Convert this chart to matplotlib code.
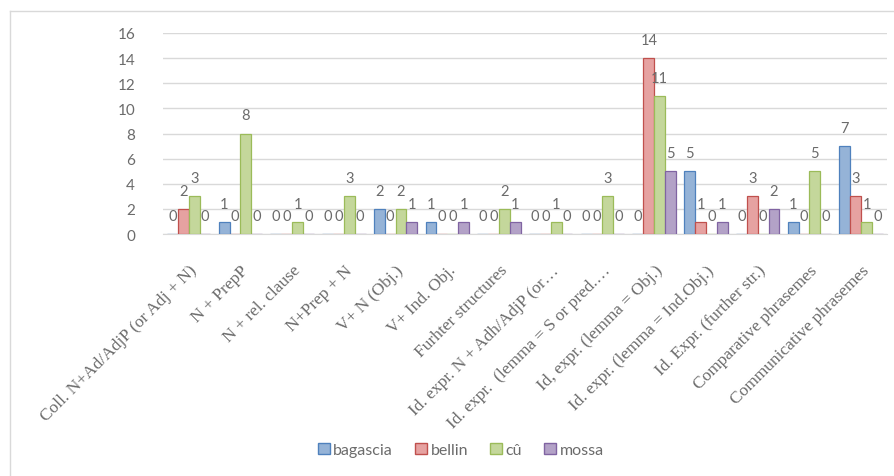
import matplotlib.pyplot as plt
import numpy as np
from matplotlib.patches import Patch
from matplotlib.lines import Line2D

categories = [
    "Coll. N+Ad/AdjP (or Adj + N)",
    "N + PrepP",
    "N + rel. clause",
    "N+Prep + N",
    "V+ N (Obj.)",
    "V+ Ind. Obj.",
    "Furhter structures",
    "Id. expr. N + Adh/AdjP (or…",
    "Id. expr.  (lemma = S or pred.…",
    "Id, expr. (lemma = Obj.)",
    "Id. expr. (lemma = Ind.Obj.)",
    "Id. Expr. (further str.)",
    "Comparative phrasemes",
    "Communicative phrasemes",
]
bagascia = [0, 1, 0, 0, 2, 1, 0, 0, 0, 0, 5, 0, 1, 7]
bellin = [2, 0, 0, 0, 0, 0, 0, 0, 0, 14, 1, 3, 0, 3]
cu = [3, 8, 1, 3, 2, 0, 2, 1, 3, 11, 0, 0, 5, 1]
mossa = [0, 0, 0, 0, 1, 1, 1, 0, 0, 5, 1, 2, 0, 0]

series = [
    ("bagascia", bagascia, "#95B3D7", "#4F81BD"),
    ("bellin", bellin, "#E6A2A1", "#C0504D"),
    ("cû", cu, "#C4D79B", "#9BBB59"),
    ("mossa", mossa, "#B3A2C7", "#8064A2"),
]

TEXT = "#6b6b6b"
fig = plt.figure(figsize=(8.95, 4.77), dpi=100)
ax = fig.add_axes([0.182, 0.507, 0.809, 0.422])

x = np.arange(len(categories))
w = 0.21
for i, (name, vals, face, edge) in enumerate(series):
    pos = x + (i - 1.5) * w
    ax.bar(pos, vals, w, color=face, edgecolor=edge, linewidth=0.9, zorder=3)
    for px, v in zip(pos, vals):
        ax.annotate(str(v), (px, v), xytext=(0, 13), textcoords="offset points",
                    ha="center", va="center", fontsize=10.5, color=TEXT,
                    family="Lato")

ax.set_xlim(-0.5, len(categories) - 0.5)
ax.set_ylim(0, 16)
ax.set_yticks(range(0, 17, 2))
ax.yaxis.grid(True, color="#D9D9D9", linewidth=1, zorder=0)
for s in ["top", "right", "left"]:
    ax.spines[s].set_visible(False)
ax.spines["bottom"].set_color("#D9D9D9")
ax.tick_params(axis="both", length=0, colors=TEXT)
ax.tick_params(axis="y", labelsize=11, pad=20)
ax.tick_params(axis="x", pad=20)
for lab in ax.get_yticklabels():
    lab.set_family("Lato")
ax.set_xticks(x)
ax.set_xticklabels(categories, rotation=45, ha="right", rotation_mode="anchor")
for lab in ax.get_xticklabels():
    lab.set_fontfamily(["Liberation Serif", "DejaVu Serif"])
    lab.set_fontsize(12.5)
    lab.set_color(TEXT)

# chart border (partially visible)
fig.add_artist(Line2D([10 / 895, 10 / 895], [1 - 12 / 477, 0], color="#D9D9D9", lw=1))
fig.add_artist(Line2D([10 / 895, 1], [1 - 12 / 477, 1 - 12 / 477], color="#D9D9D9", lw=1))

handles = [Patch(facecolor=f, edgecolor=e, label=n) for n, _, f, e in series]
leg = fig.legend(handles=handles, loc="center", bbox_to_anchor=(0.515, 1 - 451 / 477),
                 ncol=4, frameon=False, handlelength=0.75,
                 handleheight=0.75, handletextpad=0.2, columnspacing=1.4,
                 prop={"family": "Lato", "size": 11.5})
for t in leg.get_texts():
    t.set_color(TEXT)

fig.savefig("out.png", dpi=100)
